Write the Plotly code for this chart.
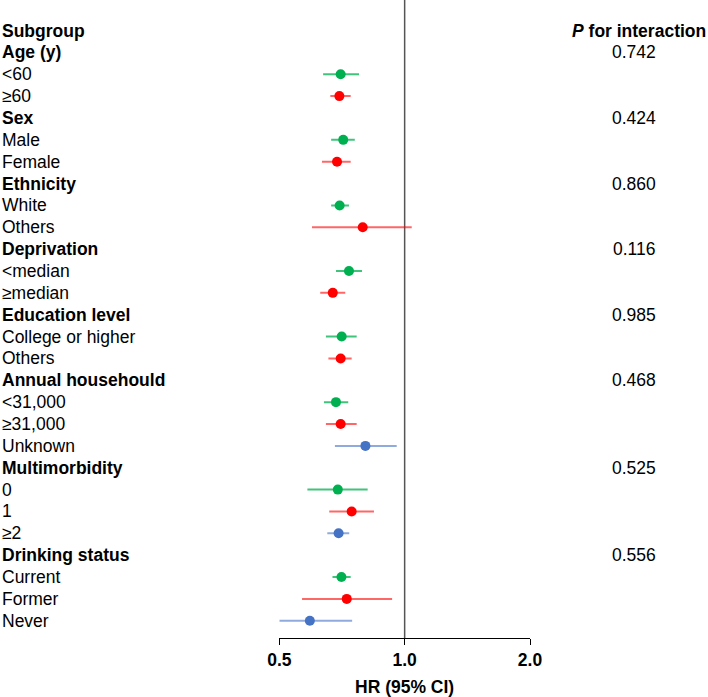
import math
import plotly.graph_objects as go

# ---------------- data ----------------
row_labels = ["Age (y)", "<60", "≥60",
              "Sex", "Male", "Female",
              "Ethnicity", "White", "Others",
              "Deprivation", "<median", "≥median",
              "Education level", "College or higher", "Others",
              "Annual househould", "<31,000", "≥31,000", "Unknown",
              "Multimorbidity", "0", "1", "≥2",
              "Drinking status", "Current", "Former", "Never"]
is_header = [True, False, False,
             True, False, False,
             True, False, False,
             True, False, False,
             True, False, False,
             True, False, False, False,
             True, False, False, False,
             True, False, False, False]
p_interaction = ["0.742", None, None,
                 "0.424", None, None,
                 "0.860", None, None,
                 "0.116", None, None,
                 "0.985", None, None,
                 "0.468", None, None, None,
                 "0.525", None, None, None,
                 "0.556", None, None, None]
hr = [None, 0.702, 0.697,
      None, 0.712, 0.688,
      None, 0.698, 0.793,
      None, 0.735, 0.672,
      None, 0.706, 0.702,
      None, 0.684, 0.702, 0.805,
      None, 0.691, 0.746, 0.694,
      None, 0.705, 0.726, 0.592]
ci_low = [None, 0.637, 0.663,
          None, 0.666, 0.633,
          None, 0.666, 0.599,
          None, 0.684, 0.627,
          None, 0.647, 0.656,
          None, 0.640, 0.647, 0.680,
          None, 0.584, 0.659, 0.652,
          None, 0.671, 0.567, 0.500]
ci_high = [None, 0.777, 0.742,
           None, 0.759, 0.742,
           None, 0.735, 1.040,
           None, 0.790, 0.720,
           None, 0.767, 0.746,
           None, 0.732, 0.767, 0.957,
           None, 0.815, 0.844, 0.736,
           None, 0.742, 0.933, 0.748]
group_idx = [None, 0, 1,
             None, 0, 1,
             None, 0, 1,
             None, 0, 1,
             None, 0, 1,
             None, 0, 1, 2,
             None, 0, 1, 2,
             None, 0, 1, 2]
tick_vals = [0.5, 1.0, 2.0]
tick_text = ["0.5", "1.0", "2.0"]

marker_colors = ["#00B050", "#FF0000", "#4472C4"]
line_colors = ["rgba(0,176,80,0.75)", "rgba(255,0,0,0.6)", "rgba(68,114,196,0.6)"]

W, H = 708, 697
FONT = "Liberation Sans, Arial, sans-serif"
FS = 17.5

fig = go.Figure()

n = len(row_labels)
rows = list(range(n))

for g in range(3):
    xs, ys = [], []
    px, py = [], []
    for i in rows:
        if group_idx[i] == g:
            xs += [ci_low[i], ci_high[i], None]
            ys += [i, i, None]
            px.append(hr[i])
            py.append(i)
    fig.add_trace(go.Scatter(x=xs, y=ys, mode="lines",
                             line=dict(color=line_colors[g], width=2),
                             hoverinfo="skip", showlegend=False))
    fig.add_trace(go.Scatter(x=px, y=py, mode="markers",
                             marker=dict(color=marker_colors[g], size=10),
                             showlegend=False))

# reference line at HR = 1 (spans the plotting area only)
fig.add_shape(type="line", xref="x", yref="y domain", x0=1, x1=1, y0=0, y1=1,
              line=dict(color="#555555", width=1.5), layer="below")

# layout geometry
x_left_px, x_right_px = 279.3, 530.0
y_bottom_px = 638.0
row0_px, row_step = 52.4, 21.86
y_top_val = (0 - row0_px) / row_step
y_bot_val = (y_bottom_px - row0_px) / row_step

annotations = []
annotations.append(dict(x=0, y=-1, xref="paper", yref="y", text="<b>Subgroup</b>",
                        showarrow=False, xanchor="left", yanchor="middle",
                        font=dict(family=FONT, size=FS, color="black")))
annotations.append(dict(x=1, y=-1, xref="paper", yref="y",
                        text="<b><i>P</i> for interaction</b>",
                        showarrow=False, xanchor="right", yanchor="middle",
                        font=dict(family=FONT, size=FS, color="black")))
for i in rows:
    txt = f"<b>{row_labels[i]}</b>" if is_header[i] else row_labels[i]
    annotations.append(dict(x=0, y=i, xref="paper", yref="y", text=txt,
                            showarrow=False, xanchor="left", yanchor="middle",
                            font=dict(family=FONT, size=FS, color="black")))
    if p_interaction[i]:
        annotations.append(dict(x=634 / W, y=i, xref="paper", yref="y",
                                text=p_interaction[i], showarrow=False,
                                xanchor="center", yanchor="middle",
                                font=dict(family=FONT, size=FS, color="black")))

annotations.append(dict(x=(404.7) / W, y=1 - 687 / H, xref="paper", yref="paper",
                        text="<b>HR (95% CI)</b>", showarrow=False,
                        xanchor="center", yanchor="middle",
                        font=dict(family=FONT, size=FS, color="black")))

fig.update_layout(
    template="none",
    width=W, height=H, autosize=False,
    margin=dict(l=0, r=0, t=0, b=0, pad=0, autoexpand=False),
    paper_bgcolor="white", plot_bgcolor="white",
    showlegend=False,
    annotations=annotations,
    xaxis=dict(type="log", domain=[x_left_px / W, x_right_px / W],
               range=[math.log10(0.5), math.log10(2.0)],
               tickvals=tick_vals, ticktext=[f"<b>{t}</b>" for t in tick_text],
               ticks="outside", ticklen=6, tickwidth=1, tickcolor="black",
               showline=True, linecolor="black", linewidth=1,
               showgrid=False, zeroline=False, automargin=False,
               tickfont=dict(family=FONT, size=FS, color="black")),
    yaxis=dict(domain=[1 - y_bottom_px / H, 1],
               range=[y_bot_val, y_top_val],
               showticklabels=False, showgrid=False, zeroline=False,
               showline=False, ticks="", automargin=False),
)

fig.write_html("out.html", config={"responsive": False})
